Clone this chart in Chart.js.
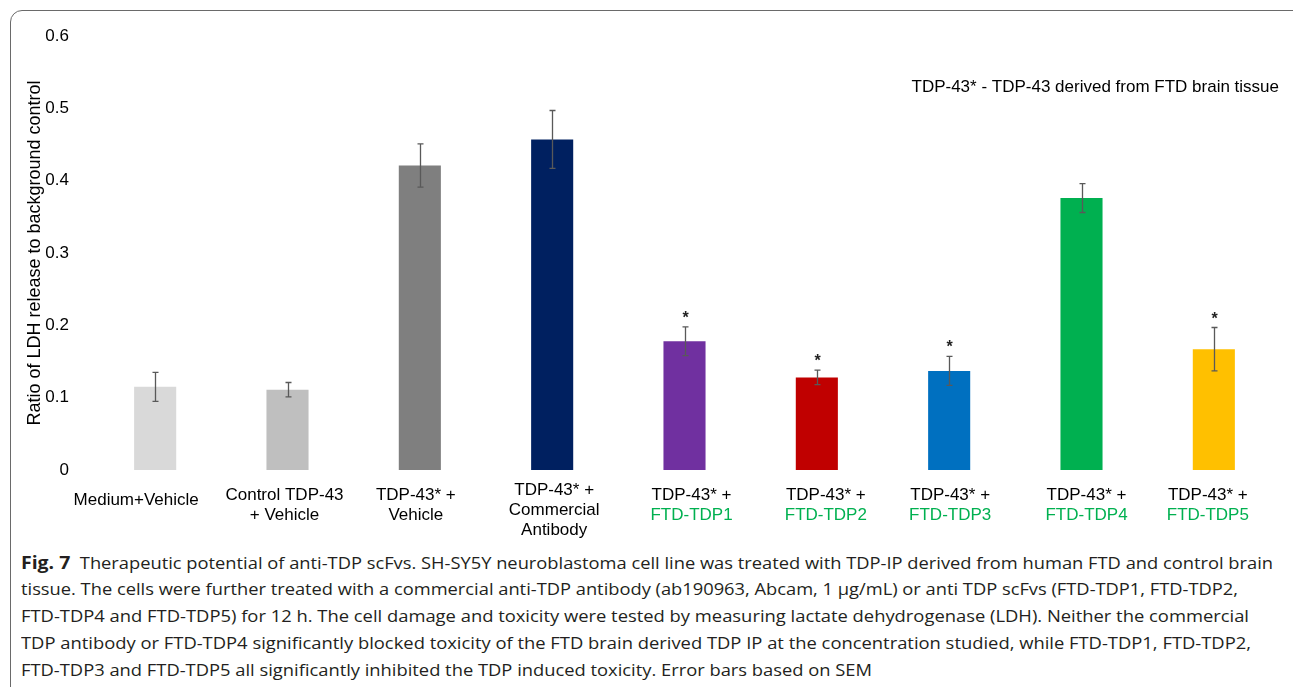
<!DOCTYPE html>
<html>
<head>
<meta charset="utf-8">
<script src="https://cdn.jsdelivr.net/npm/chart.js@4.4.1/dist/chart.umd.min.js"></script>
<style>
  body { margin: 0; background: #fff; width: 1293px; height: 687px; overflow: hidden; position: relative; }
  #frame { position: absolute; left: 10px; top: 10px; width: 1320px; height: 720px; border: 1.5px solid #6a6a6a; border-radius: 12px; box-sizing: border-box; }
  #ldh-chart { position: absolute; left: 0; top: 0; }
  #caption { position: absolute; left: 21px; top: 549px; font-family: 'Open Sans', sans-serif; font-size: 16px; line-height: 27px; color: #231f20; }
  #caption div { white-space: nowrap; height: 27px; }
  #caption span { display: inline-block; transform-origin: 0 50%; }
  #caption b { font-size: 17px; }
</style>
</head>
<body>
<div id="frame"></div>
<canvas id="ldh-chart" width="1293" height="545"></canvas>
<div id="caption">
  <div><span><b>Fig. 7</b>&nbsp; Therapeutic potential of anti-TDP scFvs. SH-SY5Y neuroblastoma cell line was treated with TDP-IP derived from human FTD and control brain</span></div>
  <div><span>tissue. The cells were further treated with a commercial anti-TDP antibody (ab190963, Abcam, 1 µg/mL) or anti TDP scFvs (FTD-TDP1, FTD-TDP2,</span></div>
  <div><span>FTD-TDP4 and FTD-TDP5) for 12 h. The cell damage and toxicity were tested by measuring lactate dehydrogenase (LDH). Neither the commercial</span></div>
  <div><span>TDP antibody or FTD-TDP4 significantly blocked toxicity of the FTD brain derived TDP IP at the concentration studied, while FTD-TDP1, FTD-TDP2,</span></div>
  <div><span>FTD-TDP3 and FTD-TDP5 all significantly inhibited the TDP induced toxicity. Error bars based on SEM</span></div>
</div>
<script>
// groups shown on the x axis (one label line per array entry)
var categories = ['Medium+Vehicle', 'Control TDP-43 + Vehicle', 'TDP-43* + Vehicle',
  'TDP-43* + Commercial Antibody', 'TDP-43* + FTD-TDP1', 'TDP-43* + FTD-TDP2',
  'TDP-43* + FTD-TDP3', 'TDP-43* + FTD-TDP4', 'TDP-43* + FTD-TDP5'];
var labelLines = [
  ['Medium+Vehicle'],
  ['Control TDP-43', '+ Vehicle'],
  ['TDP-43* +', 'Vehicle'],
  ['TDP-43* +', 'Commercial', 'Antibody'],
  ['TDP-43* +', 'FTD-TDP1'],
  ['TDP-43* +', 'FTD-TDP2'],
  ['TDP-43* +', 'FTD-TDP3'],
  ['TDP-43* +', 'FTD-TDP4'],
  ['TDP-43* +', 'FTD-TDP5']
];
var ldhRatio = [0.115, 0.111, 0.421, 0.457, 0.178, 0.128, 0.137, 0.376, 0.167];
var semError = [0.020, 0.010, 0.030, 0.040, 0.020, 0.010, 0.020, 0.020, 0.030];
var significant = [false, false, false, false, true, true, true, false, true];
var barColors = ['#d9d9d9', '#bfbfbf', '#7f7f7f', '#002060', '#7030a0', '#c00000', '#0070c0', '#00b050', '#ffc000'];
var yTickLabels = ['0', '0.1', '0.2', '0.3', '0.4', '0.5', '0.6'];
var yTitle = 'Ratio of LDH release to background control';
var noteText = 'TDP-43* - TDP-43 derived from FTD brain tissue';

var FONT = "'Liberation Sans', Arial, sans-serif";

var errorBarPlugin = {
  id: 'errorBars',
  afterDatasetsDraw: function(chart) {
    var ctx = chart.ctx;
    var y = chart.scales.y;
    var meta = chart.getDatasetMeta(0);
    ctx.save();
    ctx.strokeStyle = '#595959';
    ctx.lineWidth = 1.3;
    for (var i = 0; i < meta.data.length; i++) {
      var x = Math.round(meta.data[i].x) + 0.5;
      var top = y.getPixelForValue(ldhRatio[i] + semError[i]);
      var bot = y.getPixelForValue(ldhRatio[i] - semError[i]);
      ctx.beginPath();
      ctx.moveTo(x, top); ctx.lineTo(x, bot);
      ctx.moveTo(x - 3, top); ctx.lineTo(x + 3, top);
      ctx.moveTo(x - 3, bot); ctx.lineTo(x + 3, bot);
      ctx.stroke();
      if (significant[i]) {
        ctx.fillStyle = '#222';
        ctx.font = 'bold 16px ' + FONT;
        ctx.textAlign = 'center';
        ctx.textBaseline = 'alphabetic';
        ctx.fillText('*', x, top - 4);
      }
    }
    ctx.restore();
  }
};

// labels under the bars; the scFv names are written in green
var labelShift = [-19, -3, -4, 2, 7, 9, 1, 5, -6];
var xLabelPlugin = {
  id: 'xLabels',
  afterDraw: function(chart) {
    var ctx = chart.ctx;
    var xs = chart.scales.x;
    var base = chart.chartArea.bottom;
    ctx.save();
    ctx.font = '17px ' + FONT;
    ctx.textAlign = 'center';
    ctx.textBaseline = 'middle';
    for (var i = 0; i < labelLines.length; i++) {
      var lines = labelLines[i];
      var x = xs.getPixelForValue(i) + labelShift[i];
      var y0 = base + 30 - (lines.length - 1) * 5;
      for (var j = 0; j < lines.length; j++) {
        ctx.fillStyle = lines[j].indexOf('FTD-') === 0 ? '#00b050' : '#000';
        ctx.fillText(lines[j], x, y0 + j * 20);
      }
    }
    // note in the upper right corner
    ctx.fillStyle = '#000';
    ctx.textAlign = 'right';
    ctx.fillText(noteText, 1279, 87);
    ctx.restore();
  }
};

document.addEventListener('DOMContentLoaded', function() {
  new Chart(document.getElementById('ldh-chart'), {
    type: 'bar',
    data: {
      labels: categories,
      datasets: [{
        data: ldhRatio,
        backgroundColor: barColors,
        categoryPercentage: 1,
        barPercentage: 0.318
      }]
    },
    options: {
      responsive: false,
      animation: false,
      devicePixelRatio: 1,
      layout: { padding: { top: 36, right: 13, left: 0, bottom: 0 } },
      plugins: { legend: { display: false }, tooltip: { enabled: false } },
      scales: {
        x: {
          grid: { display: false },
          border: { display: false },
          ticks: { display: false },
          afterFit: function(s) { s.height = 75; }
        },
        y: {
          min: 0,
          max: 0.6,
          grid: { display: false },
          border: { display: false },
          ticks: {
            stepSize: 0.1,
            padding: 12,
            color: '#000',
            font: { family: FONT, size: 17 },
            callback: function(v, i) { return yTickLabels[i]; }
          },
          title: {
            display: true,
            text: yTitle,
            color: '#000',
            font: { family: FONT, size: 18 },
            padding: { top: 24, bottom: 0 }
          },
          afterFit: function(s) { s.width = 89; }
        }
      }
    },
    plugins: [errorBarPlugin, xLabelPlugin]
  });

  // squeeze caption lines to the widths of the printed figure
  var widths = [1252, 1217, 1228, 1230, 851];
  var spans = document.querySelectorAll('#caption span');
  for (var i = 0; i < spans.length; i++) {
    var w = spans[i].getBoundingClientRect().width;
    spans[i].style.transform = 'scaleX(' + (widths[i] / w) + ')';
  }
});
</script>
</body>
</html>
